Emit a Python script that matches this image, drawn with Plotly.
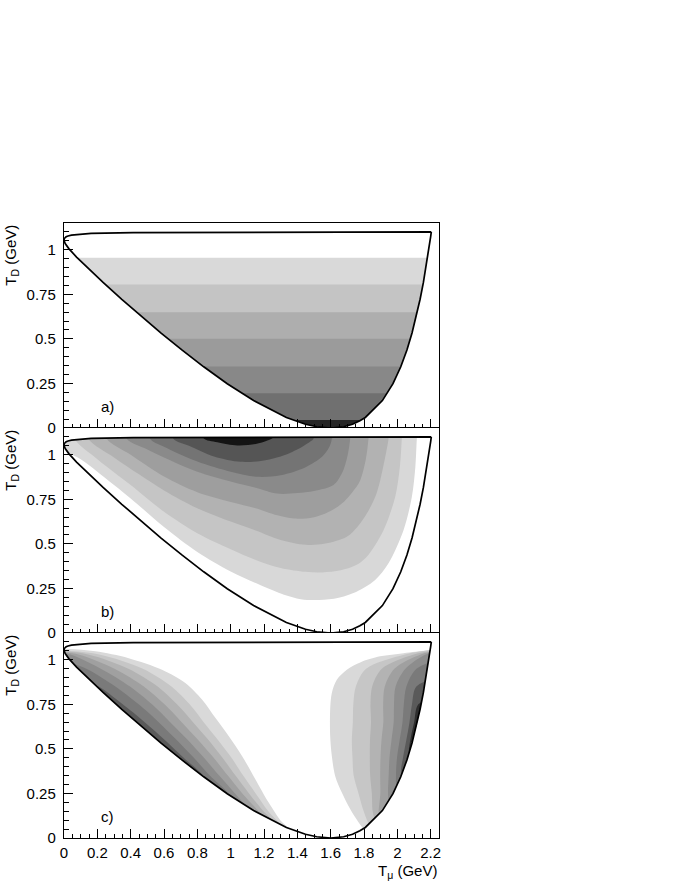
import plotly.graph_objects as go

# ---------------- data (GeV) ----------------
# Kinematic (Dalitz) boundary, T_mu vs T_D, read counter-clockwise from the upper-right corner
BND_TOP_X = [2.2038, 1.6148, 1.1856, 0.7568, 0.4152, 0.1628, 0.0823, 0.0448, 0.0244, 0.0126, 0.0020, 0.0]
BND_TOP_Y = [1.0999, 1.0996, 1.0991, 1.0981, 1.0962, 1.0915, 1.0868, 1.0820, 1.0773, 1.0726, 1.0631, 1.0536]
BND_LEFT_X = [0.0071, 0.0289, 0.0753, 0.1265, 0.2344, 0.3468, 0.4627, 0.5825, 0.7072, 0.8384,
              0.9795, 1.1374, 1.3344, 1.3860, 1.4489, 1.5161, 1.6006]
BND_LEFT_Y = [1.0347, 1.0063, 0.9589, 0.9116, 0.8168, 0.7221, 0.6274, 0.5327, 0.4380, 0.3433,
              0.2486, 0.1538, 0.0591, 0.0402, 0.0212, 0.0070, 0.0]
BND_RIGHT_X = [1.6781, 1.7312, 1.7752, 1.8078, 1.9104, 1.9739, 2.0206, 2.0576, 2.0882, 2.1142,
               2.1366, 2.1564, 2.1740, 2.1820, 2.1897, 2.1970, 2.1998]
BND_RIGHT_Y = [0.0070, 0.0212, 0.0402, 0.0591, 0.1538, 0.2486, 0.3433, 0.4380, 0.5327, 0.6274,
               0.7221, 0.8168, 0.9116, 0.9589, 1.0063, 1.0536, 1.0726]

# Panel a): contour levels are horizontal lines in T_D (upper edge of each shaded level)
A_LEVELS = [0.955, 0.805, 0.65, 0.5, 0.345, 0.195, 0.045]
A_COLORS = ['#d9d9d9', '#c4c4c4', '#aeaeae', '#9b9b9b', '#888888', '#707070', '#262626']

# Panel b): contour outlines (T_mu, T_D), light -> dark
B_LV1 = [(-0.1, 1.2), (-0.02, 1.04), (0.1, 0.975), (0.2, 0.905), (0.4, 0.755), (0.6, 0.595), (0.8, 0.455),
         (1.0, 0.345), (1.18, 0.268), (1.32, 0.215), (1.42, 0.19), (1.5, 0.185), (1.62, 0.192),
         (1.737, 0.224), (1.867, 0.298), (1.947, 0.391), (2.037, 0.577), (2.087, 0.763), (2.108, 0.93),
         (2.117, 1.09), (2.125, 1.2)]
B_LV2 = [(0.03, 1.2), (0.066, 1.085), (0.2, 0.975), (0.4, 0.83), (0.6, 0.68), (0.8, 0.56), (1.0, 0.47),
         (1.15, 0.41), (1.3, 0.365), (1.45, 0.343), (1.55, 0.34), (1.66, 0.352), (1.75, 0.38),
         (1.817, 0.428), (1.917, 0.577), (1.987, 0.763), (2.015, 0.93), (2.027, 1.09), (2.035, 1.2)]
B_LV3 = [(0.12, 1.2), (0.146, 1.09), (0.3, 0.985), (0.45, 0.89), (0.6, 0.80), (0.8, 0.70), (1.0, 0.625),
         (1.15, 0.575), (1.3, 0.522), (1.45, 0.495), (1.56, 0.50), (1.697, 0.54), (1.76, 0.595),
         (1.817, 0.67), (1.87, 0.77), (1.897, 0.856), (1.93, 1.0), (1.947, 1.09), (1.955, 1.2)]
B_LV4 = [(0.23, 1.2), (0.256, 1.09), (0.4, 1.0), (0.6, 0.878), (0.8, 0.79), (1.0, 0.735), (1.15, 0.70),
         (1.28, 0.66), (1.38, 0.642), (1.5, 0.65), (1.6, 0.685), (1.667, 0.726), (1.73, 0.79),
         (1.777, 0.856), (1.81, 0.97), (1.827, 1.09), (1.835, 1.2)]
B_LV5 = [(0.35, 1.2), (0.376, 1.09), (0.5, 1.03), (0.6, 0.985), (0.8, 0.905), (1.0, 0.85), (1.15, 0.815),
         (1.28, 0.782), (1.4, 0.785), (1.5, 0.797), (1.617, 0.83), (1.67, 0.9), (1.70, 0.99),
         (1.717, 1.09), (1.72, 1.2)]
B_LV6 = [(0.5, 1.2), (0.516, 1.09), (0.6, 1.045), (0.8, 0.962), (1.0, 0.905), (1.16, 0.876), (1.3, 0.885),
         (1.45, 0.93), (1.55, 0.99), (1.59, 1.04), (1.607, 1.09), (1.61, 1.2)]
B_LV7 = [(0.64, 1.2), (0.656, 1.09), (0.75, 1.05), (0.9, 0.99), (1.06, 0.96), (1.2, 0.968), (1.33, 1.0),
         (1.43, 1.045), (1.48, 1.075), (1.497, 1.09), (1.5, 1.2)]
B_LV8 = [(0.83, 1.2), (0.836, 1.094), (0.92, 1.07), (1.04, 1.052), (1.15, 1.06), (1.22, 1.08),
         (1.255, 1.097), (1.26, 1.2)]
B_LEVELS = [B_LV1, B_LV2, B_LV3, B_LV4, B_LV5, B_LV6, B_LV7, B_LV8]
B_COLORS = ['#d8d8d8', '#c5c5c5', '#b2b2b2', '#9e9e9e', '#8a8a8a', '#747474', '#555555', '#141414']

# Panel c): left lobe contour outlines
C_L1 = [(-0.1, 1.06), (0.028, 1.060), (0.188, 1.047), (0.388, 1.009), (0.588, 0.944), (0.728, 0.870),
        (0.828, 0.777), (0.908, 0.674), (0.988, 0.572), (1.068, 0.460), (1.148, 0.330), (1.228, 0.199),
        (1.309, 0.088), (1.369, 0.041), (1.40, 0.0), (-0.5, -0.5)]
C_L2 = [(-0.05, 1.055), (0.211, 1.03), (0.473, 0.95), (0.645, 0.85), (0.754, 0.75), (0.838, 0.65),
        (0.924, 0.55), (1.005, 0.45), (1.075, 0.35), (1.150, 0.25), (1.226, 0.15), (1.30, 0.075),
        (1.33, 0.04), (-0.5, -0.5)]
C_L3 = [(-0.05, 1.05), (0.145, 1.03), (0.386, 0.95), (0.562, 0.85), (0.678, 0.75), (0.774, 0.65),
        (0.867, 0.55), (0.951, 0.45), (1.029, 0.35), (1.110, 0.25), (1.197, 0.15), (1.24, 0.11),
        (1.26, 0.08), (-0.5, -0.5)]
C_L4 = [(-0.05, 1.045), (0.086, 1.03), (0.303, 0.95), (0.479, 0.85), (0.603, 0.75), (0.706, 0.65),
        (0.805, 0.55), (0.898, 0.45), (0.983, 0.35), (1.070, 0.25), (1.168, 0.15), (1.19, 0.125),
        (1.20, 0.10), (-0.5, -0.5)]
C_L5 = [(-0.05, 1.04), (0.038, 1.03), (0.221, 0.95), (0.396, 0.85), (0.528, 0.75), (0.637, 0.65),
        (0.743, 0.55), (0.840, 0.45), (0.931, 0.35), (1.026, 0.25), (1.10, 0.17), (1.11, 0.15), (-0.5, -0.5)]
C_L6 = [(0.03, 0.985), (0.134, 0.95), (0.308, 0.85), (0.448, 0.75), (0.568, 0.65), (0.676, 0.55),
        (0.779, 0.45), (0.875, 0.35), (0.984, 0.25), (0.99, 0.22), (-0.5, -0.5)]
C_L7 = [(0.17, 0.86), (0.208, 0.85), (0.352, 0.75), (0.484, 0.65), (0.605, 0.55), (0.718, 0.45),
        (0.835, 0.35), (0.84, 0.33), (-0.5, -0.5)]
C_LEFT = [C_L1, C_L2, C_L3, C_L4, C_L5, C_L6, C_L7]

# Panel c): right lobe contour outlines
C_R1 = [(2.25, 1.057), (2.177, 1.052), (2.037, 1.037), (1.897, 1.019), (1.777, 0.985), (1.697, 0.944),
        (1.637, 0.888), (1.607, 0.814), (1.597, 0.721), (1.597, 0.572), (1.607, 0.460), (1.627, 0.348),
        (1.667, 0.255), (1.717, 0.162), (1.767, 0.088), (1.80, 0.045), (1.82, 0.02), (2.7, -0.3)]
C_R2 = [(2.25, 1.06), (2.046, 1.03), (1.813, 0.95), (1.751, 0.85), (1.736, 0.75), (1.733, 0.65),
        (1.727, 0.55), (1.731, 0.45), (1.738, 0.35), (1.767, 0.25), (1.798, 0.15), (1.83, 0.08),
        (1.86, 0.06), (2.7, -0.3)]
C_R3 = [(2.25, 1.055), (2.0985, 1.03), (1.907, 0.95), (1.849, 0.85), (1.839, 0.75), (1.842, 0.65),
        (1.836, 0.55), (1.835, 0.45), (1.837, 0.35), (1.847, 0.25), (1.852, 0.15), (1.865, 0.11),
        (1.89, 0.09), (2.7, -0.3)]
C_R4 = [(2.25, 1.05), (2.1405, 1.03), (1.9825, 0.95), (1.9246, 0.85), (1.915, 0.75), (1.916, 0.65),
        (1.905, 0.55), (1.899, 0.45), (1.897, 0.35), (1.898, 0.25), (1.888, 0.15), (1.89, 0.13),
        (1.91, 0.12), (2.7, -0.3)]
C_R5 = [(2.25, 1.045), (2.172, 1.03), (2.0485, 0.95), (1.9895, 0.85), (1.980, 0.75), (1.978, 0.65),
        (1.965, 0.55), (1.953, 0.45), (1.948, 0.35), (1.944, 0.25), (1.95, 0.2), (1.97, 0.19), (2.7, -0.3)]
C_R6 = [(2.25, 1.0), (2.1145, 0.95), (2.0544, 0.85), (2.039, 0.75), (2.031, 0.65), (2.014, 0.55),
        (1.998, 0.45), (1.992, 0.35), (1.995, 0.30), (2.02, 0.28), (2.7, -0.3)]
C_R7 = [(2.25, 0.9), (2.114, 0.85), (2.088, 0.75), (2.073, 0.65), (2.054, 0.55), (2.034, 0.45),
        (2.023, 0.37), (2.04, 0.35), (2.7, -0.3)]
C_R8 = [(2.25, 0.8), (2.126, 0.75), (2.101, 0.65), (2.078, 0.55), (2.07, 0.48), (2.09, 0.45), (2.7, -0.3)]
C_RIGHT = [C_R1, C_R2, C_R3, C_R4, C_R5, C_R6, C_R7, C_R8]
C_COLORS = ['#d9d9d9', '#c6c6c6', '#b3b3b3', '#a0a0a0', '#8d8d8d', '#7a7a7a', '#5a5a5a', '#2e2e2e']

X_TICKS = [0, 0.2, 0.4, 0.6, 0.8, 1.0, 1.2, 1.4, 1.6, 1.8, 2.0, 2.2]
X_TICKTEXT = ['0', '0.2', '0.4', '0.6', '0.8', '1', '1.2', '1.4', '1.6', '1.8', '2', '2.2']
Y_TICKS = [0, 0.25, 0.5, 0.75, 1.0]
Y_TICKTEXT = ['0', '0.25', '0.5', '0.75', '1']
PANEL_LABELS = ['a)', 'b)', 'c)']
X_RANGE = [0, 2.25]
Y_RANGE = [0, 1.15]

FONT = 'Liberation Sans, Arial, Helvetica, sans-serif'

# ---------------- figure ----------------
fig = go.Figure()
AX = [('x', 'y'), ('x2', 'y2'), ('x3', 'y3')]


def add_poly(pts, color, xa, ya, smooth=True):
    xs = [p[0] for p in pts]
    ys = [p[1] for p in pts]
    line = dict(width=0, color=color)
    if smooth:
        line.update(shape='spline', smoothing=0.9)
    fig.add_trace(go.Scatter(x=xs, y=ys, xaxis=xa, yaxis=ya, mode='lines', fill='toself',
                             fillcolor=color, line=line, hoverinfo='skip', showlegend=False))


# boundary chains
top_right = (BND_TOP_X[0], BND_TOP_Y[0])
bottom = (BND_LEFT_X[-1], BND_LEFT_Y[-1])
chain_tl = list(zip(BND_TOP_X + BND_LEFT_X, BND_TOP_Y + BND_LEFT_Y))
chain_r = [bottom] + list(zip(BND_RIGHT_X, BND_RIGHT_Y)) + [top_right]
far = 2.8
low = -0.6
high = 1.7
mask_a = chain_tl + [(bottom[0], low), (-0.6, low), (-0.6, high), (far, high), (far, top_right[1])]
mask_b = chain_r + [(far, top_right[1]), (far, low), (bottom[0], low)]
bnd_x = [p[0] for p in chain_tl + chain_r]
bnd_y = [p[1] for p in chain_tl + chain_r]


def finish_panel(xa, ya):
    add_poly(mask_a, 'white', xa, ya, smooth=False)
    add_poly(mask_b, 'white', xa, ya, smooth=False)
    fig.add_trace(go.Scatter(x=bnd_x, y=bnd_y, xaxis=xa, yaxis=ya, mode='lines',
                             line=dict(color='black', width=1.7), hoverinfo='skip', showlegend=False))


# panel a
xa, ya = AX[0]
for lv, col in zip(A_LEVELS, A_COLORS):
    add_poly([(-0.3, -0.3), (2.6, -0.3), (2.6, lv), (-0.3, lv)], col, xa, ya, smooth=False)
finish_panel(xa, ya)

# panel b
xa, ya = AX[1]
for pts, col in zip(B_LEVELS, B_COLORS):
    add_poly(pts, col, xa, ya)
finish_panel(xa, ya)

# panel c
xa, ya = AX[2]
for pts, col in zip(C_LEFT, C_COLORS):
    add_poly(pts, col, xa, ya)
for pts, col in zip(C_RIGHT, C_COLORS):
    add_poly(pts, col, xa, ya)
finish_panel(xa, ya)

# axes
domains = [[2 / 3, 1.0], [1 / 3, 2 / 3], [0.0, 1 / 3]]
tickfont = dict(family=FONT, size=15, color='black')
layout_axes = {}
for i, (xa, ya) in enumerate(AX):
    xkey = 'xaxis' if i == 0 else 'xaxis%d' % (i + 1)
    ykey = 'yaxis' if i == 0 else 'yaxis%d' % (i + 1)
    layout_axes[xkey] = dict(domain=[0, 1], anchor=ya, range=X_RANGE, showgrid=False, zeroline=False,
                             showline=True, linecolor='black', linewidth=1.2, mirror=True,
                             ticks='inside', ticklen=9, tickwidth=1, tickcolor='black',
                             tickmode='array', tickvals=X_TICKS, ticktext=X_TICKTEXT,
                             showticklabels=(i == 2), tickfont=tickfont, ticklabelstandoff=1,
                             automargin=False,
                             minor=dict(ticks='inside', ticklen=4.5, tickwidth=1, tickcolor='black',
                                        tick0=0, dtick=0.05, showgrid=False))
    layout_axes[ykey] = dict(domain=domains[i], anchor=xa, range=Y_RANGE, showgrid=False, zeroline=False,
                             showline=True, linecolor='black', linewidth=1.2, mirror=True,
                             ticks='inside', ticklen=9, tickwidth=1, tickcolor='black',
                             tickmode='array', tickvals=Y_TICKS, ticktext=Y_TICKTEXT,
                             tickfont=tickfont, ticklabelstandoff=4, automargin=False,
                             minor=dict(ticks='inside', ticklen=4.5, tickwidth=1, tickcolor='black',
                                        tick0=0, dtick=0.05, showgrid=False))

annotations = []
for i, (xa, ya) in enumerate(AX):
    annotations.append(dict(text='T<sub>D</sub> (GeV)', textangle=-90, xref='paper', x=-0.141,
                            xanchor='center', yref=ya + ' domain', y=1.0, yanchor='top',
                            showarrow=False, font=dict(family=FONT, size=15, color='black')))
    annotations.append(dict(text=PANEL_LABELS[i], xref=xa, yref=ya, x=0.26, y=0.12,
                            xanchor='center', yanchor='middle', showarrow=False,
                            font=dict(family=FONT, size=15, color='black')))
annotations.append(dict(text='T<sub>μ</sub> (GeV)', xref='x3 domain', x=1.0, xanchor='right',
                        yref='paper', y=-0.055, yanchor='middle', showarrow=False,
                        font=dict(family=FONT, size=15, color='black')))

fig.update_layout(width=692, height=886,
                  margin=dict(l=64, r=253, t=223, b=48, autoexpand=False),
                  paper_bgcolor='white', plot_bgcolor='white', showlegend=False,
                  font=dict(family=FONT, size=14, color='black'),
                  annotations=annotations, **layout_axes)

# remove the browser's default 8 px body margin so the figure fills the window exactly
fig.write_html('out.html',
               config={'displayModeBar': False, 'staticPlot': True},
               post_script="document.body.style.margin='0px';document.body.style.overflow='hidden';")
